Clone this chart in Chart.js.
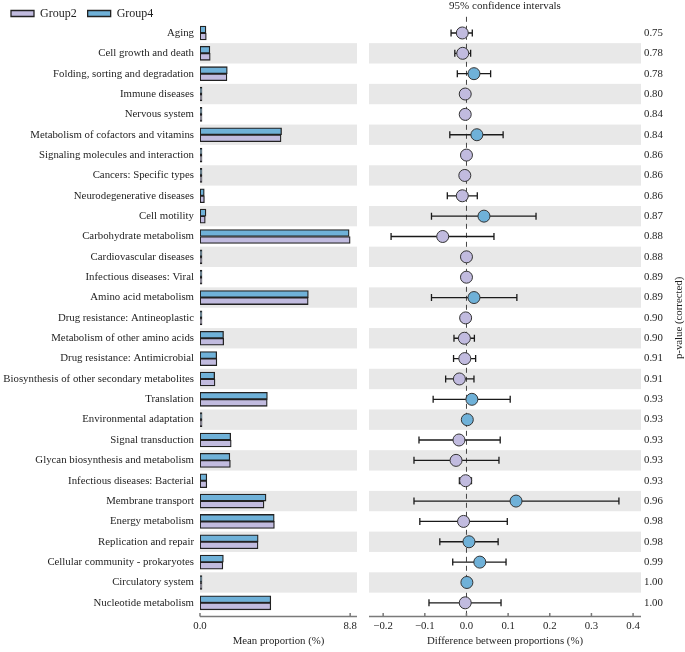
<!DOCTYPE html>
<html>
<head>
<meta charset="utf-8">
<script src="https://cdn.jsdelivr.net/npm/chart.js@4.4.1/dist/chart.umd.min.js"></script>
<style>
html, body { margin: 0; padding: 0; background: #fff; }
#wrap { position: relative; width: 685px; height: 652px; }
#wrap canvas { position: absolute; left: 0; top: 0; }
</style>
</head>
<body>
<div id="wrap">
  <canvas id="chBars" width="685" height="652"></canvas>
  <canvas id="chDiff" width="685" height="652"></canvas>
</div>
<script>
var categories = [
    'Aging', 'Cell growth and death', 'Folding, sorting and degradation', 'Immune diseases',
    'Nervous system', 'Metabolism of cofactors and vitamins', 'Signaling molecules and interaction',
    'Cancers: Specific types', 'Neurodegenerative diseases', 'Cell motility', 'Carbohydrate metabolism',
    'Cardiovascular diseases', 'Infectious diseases: Viral', 'Amino acid metabolism',
    'Drug resistance: Antineoplastic', 'Metabolism of other amino acids', 'Drug resistance: Antimicrobial',
    'Biosynthesis of other secondary metabolites', 'Translation', 'Environmental adaptation',
    'Signal transduction', 'Glycan biosynthesis and metabolism', 'Infectious diseases: Bacterial',
    'Membrane transport', 'Energy metabolism', 'Replication and repair',
    'Cellular community - prokaryotes', 'Circulatory system', 'Nucleotide metabolism'
];
// mean proportion (%)
var group2Mean = [0.37, 0.60, 1.58, 0.03, 0.08, 4.75, 0.02, 0.06, 0.26, 0.31, 8.80, 0.01, 0.01, 6.34, 0.02,
    1.39, 0.99, 0.88, 3.94, 0.12, 1.83, 1.78, 0.40, 3.75, 4.36, 3.40, 1.34, 0.01, 4.15];
var group4Mean = [0.35, 0.58, 1.60, 0.03, 0.08, 4.78, 0.02, 0.06, 0.25, 0.35, 8.74, 0.01, 0.01, 6.35, 0.02,
    1.38, 0.98, 0.86, 3.95, 0.12, 1.80, 1.75, 0.40, 3.87, 4.35, 3.41, 1.37, 0.01, 4.15];
// difference between proportions (%) and 95% CI
var diffMean = [-0.010, -0.009, 0.018, -0.003, -0.003, 0.025, 0.000, -0.004, -0.010, 0.042, -0.057, 0.000,
    0.000, 0.018, -0.002, -0.005, -0.004, -0.017, 0.013, 0.002, -0.018, -0.025, -0.002, 0.119, -0.007,
    0.006, 0.032, 0.001, -0.003];
var ciLower = [-0.037, -0.028, -0.022, -0.005, -0.005, -0.040, -0.002, -0.012, -0.046, -0.084, -0.181, -0.002,
    -0.002, -0.084, -0.012, -0.030, -0.031, -0.050, -0.080, -0.004, -0.114, -0.126, -0.017, -0.126, -0.112,
    -0.064, -0.033, -0.008, -0.090];
var ciUpper = [0.014, 0.010, 0.058, -0.001, -0.001, 0.088, 0.002, 0.007, 0.026, 0.167, 0.066, 0.002,
    0.002, 0.121, 0.008, 0.019, 0.022, 0.018, 0.105, 0.008, 0.081, 0.078, 0.012, 0.366, 0.098,
    0.076, 0.095, 0.010, 0.083];
var higherIn = ['Group2', 'Group2', 'Group4', 'Group2', 'Group2', 'Group4', 'Group2', 'Group2', 'Group2',
    'Group4', 'Group2', 'Group2', 'Group2', 'Group4', 'Group2', 'Group2', 'Group2', 'Group2', 'Group4',
    'Group4', 'Group2', 'Group2', 'Group2', 'Group4', 'Group2', 'Group4', 'Group4', 'Group4', 'Group2'];
var pValues = ['0.75', '0.78', '0.78', '0.80', '0.84', '0.84', '0.86', '0.86', '0.86', '0.87', '0.88', '0.88',
    '0.89', '0.89', '0.90', '0.90', '0.91', '0.91', '0.93', '0.93', '0.93', '0.93', '0.93', '0.96', '0.98',
    '0.98', '0.99', '1.00', '1.00'];
var meanTicks = [0, 8.8];
var diffTicks = [-0.2, -0.1, 0, 0.1, 0.2, 0.3, 0.4];

var groupColors = { Group2: '#c1bbdf', Group4: '#6fb1d8' };
var serif = '"Liberation Serif", "Times New Roman", serif';

Chart.defaults.font.family = serif;
Chart.defaults.font.size = 10.8;
Chart.defaults.color = '#1e1e1e';

// grey band behind every second row
var rowBands = {
    id: 'rowBands',
    beforeDatasetsDraw: function (chart) {
        var ctx = chart.ctx, a = chart.chartArea, y = chart.scales.y;
        var h = (a.bottom - a.top) / categories.length;
        ctx.save();
        ctx.fillStyle = '#e8e8e8';
        categories.forEach(function (c, i) {
            if (i % 2 === 1) {
                var yc = y.getPixelForValue(i);
                ctx.fillRect(a.left, yc - h / 2, a.right - a.left, h);
            }
        });
        ctx.restore();
    }
};

// x axis line a bit below the plot, with short inward ticks
var axisMarks = {
    id: 'axisMarks',
    afterDraw: function (chart) {
        var ctx = chart.ctx, a = chart.chartArea, x = chart.scales.x;
        var yLine = a.bottom + 3.5;
        ctx.save();
        ctx.strokeStyle = '#7a7a7a';
        ctx.lineWidth = 1.5;
        ctx.beginPath();
        ctx.moveTo(a.left, yLine);
        ctx.lineTo(a.right, yLine);
        x.ticks.forEach(function (t) {
            var px = x.getPixelForValue(t.value);
            ctx.moveTo(px, yLine);
            ctx.lineTo(px, yLine - 3.5);
        });
        ctx.stroke();
        ctx.restore();
    }
};

// push the legend down a little without moving the plot area
var legendNudge = {
    id: 'legendNudge',
    afterLayout: function (chart) {
        chart.legend.top += 6.7;
        chart.legend.bottom += 6.7;
    }
};

// dashed zero line and confidence interval whiskers
var ciMarks = {
    id: 'ciMarks',
    beforeDatasetsDraw: function (chart) {
        var ctx = chart.ctx, a = chart.chartArea, x = chart.scales.x, y = chart.scales.y;
        var x0 = x.getPixelForValue(0);
        ctx.save();
        ctx.strokeStyle = '#444';
        ctx.lineWidth = 1;
        ctx.setLineDash([5, 4]);
        ctx.beginPath();
        ctx.moveTo(x0, a.top - 6);
        ctx.lineTo(x0, a.bottom + 3.5);
        ctx.stroke();
        ctx.setLineDash([]);
        ctx.strokeStyle = '#1a1a1a';
        ctx.lineWidth = 1.3;
        categories.forEach(function (c, i) {
            var yc = y.getPixelForValue(i);
            var xl = x.getPixelForValue(ciLower[i]);
            var xh = x.getPixelForValue(ciUpper[i]);
            ctx.beginPath();
            ctx.moveTo(xl, yc);
            ctx.lineTo(xh, yc);
            ctx.moveTo(xl, yc - 3.5);
            ctx.lineTo(xl, yc + 3.5);
            ctx.moveTo(xh, yc - 3.5);
            ctx.lineTo(xh, yc + 3.5);
            ctx.stroke();
        });
        ctx.restore();
    }
};

var pTitle = {
    id: 'pTitle',
    afterDraw: function (chart) {
        var ctx = chart.ctx, a = chart.chartArea;
        ctx.save();
        ctx.translate(chart.width - 6, (a.top + a.bottom) / 2);
        ctx.rotate(-Math.PI / 2);
        ctx.font = '10.8px ' + serif;
        ctx.fillStyle = '#1e1e1e';
        ctx.textAlign = 'center';
        ctx.textBaseline = 'middle';
        ctx.fillText('p-value (corrected)', 0, 0);
        ctx.restore();
    }
};

function fmtDiff(v) {
    return (v < 0 ? '\u2212' : '') + Math.abs(v).toFixed(1);
}

// Left panel: mean proportions
var chBars = document.getElementById('chBars');
new Chart(chBars, {
    type: 'bar',
    data: {
        labels: categories,
        datasets: [
            {
                label: 'Group4',
                data: group4Mean,
                backgroundColor: groupColors.Group4,
                borderColor: '#222',
                borderWidth: 1.3,
                borderSkipped: false,
                barThickness: 7,
                minBarLength: 2
            },
            {
                label: 'Group2',
                data: group2Mean,
                backgroundColor: groupColors.Group2,
                borderColor: '#222',
                borderWidth: 1.3,
                borderSkipped: false,
                barThickness: 7,
                minBarLength: 2
            }
        ]
    },
    options: {
        indexAxis: 'y',
        responsive: false,
        animation: false,
        layout: { padding: { top: -10.2, right: 328, left: 0, bottom: 0 } },
        plugins: {
            legend: {
                display: true,
                position: 'top',
                align: 'start',
                reverse: true,
                labels: { boxWidth: 23, boxHeight: 6, padding: 11, font: { size: 12 }, color: '#1e1e1e' }
            },
            tooltip: { enabled: false }
        },
        scales: {
            x: {
                min: 0,
                max: 9.2,
                afterBuildTicks: function (s) { s.ticks = meanTicks.map(function (v) { return { value: v }; }); },
                ticks: { padding: 7, callback: function (v) { return v.toFixed(1); } },
                grid: { display: false, drawTicks: false },
                border: { display: false },
                title: { display: true, text: 'Mean proportion (%)', padding: { top: 0, bottom: 4 } },
                afterFit: function (s) { s.height = 39; }
            },
            y: {
                grid: { display: false, drawTicks: false },
                border: { display: false },
                ticks: { padding: 6, autoSkip: false },
                afterFit: function (s) { s.width = 200; }
            }
        }
    },
    plugins: [rowBands, axisMarks, legendNudge]
});

// Right panel: difference with 95% CI and p-values
var chDiff = document.getElementById('chDiff');
new Chart(chDiff, {
    type: 'scatter',
    data: {
        datasets: [{
            label: 'Difference',
            data: categories.map(function (c, i) { return { x: diffMean[i], y: c }; }),
            pointRadius: 6,
            pointHoverRadius: 6,
            pointBackgroundColor: higherIn.map(function (g) { return groupColors[g]; }),
            pointBorderColor: '#333',
            pointBorderWidth: 1
        }]
    },
    options: {
        responsive: false,
        animation: false,
        layout: { padding: { left: 369, top: 0, right: 0, bottom: 0 } },
        plugins: {
            legend: { display: false },
            tooltip: { enabled: false },
            title: {
                display: true,
                text: '95% confidence intervals',
                fullSize: false,
                padding: { top: 0, bottom: 9.6 },
                font: { size: 11, weight: 'normal' },
                color: '#1e1e1e'
            }
        },
        scales: {
            x: {
                type: 'linear',
                min: -0.234,
                max: 0.419,
                afterBuildTicks: function (s) { s.ticks = diffTicks.map(function (v) { return { value: v }; }); },
                ticks: { padding: 7, callback: function (v) { return fmtDiff(v); } },
                grid: { display: false, drawTicks: false },
                border: { display: false },
                title: { display: true, text: 'Difference between proportions (%)', padding: { top: 0, bottom: 4 } },
                afterFit: function (s) { s.height = 39; }
            },
            y: {
                type: 'category',
                labels: categories,
                offset: true,
                display: false
            },
            yP: {
                type: 'category',
                labels: pValues,
                position: 'right',
                offset: true,
                grid: { display: false, drawTicks: false },
                border: { display: false },
                ticks: { padding: 3, autoSkip: false },
                afterFit: function (s) { s.width = 44; }
            }
        }
    },
    plugins: [rowBands, ciMarks, axisMarks, pTitle]
});
</script>
</body>
</html>
